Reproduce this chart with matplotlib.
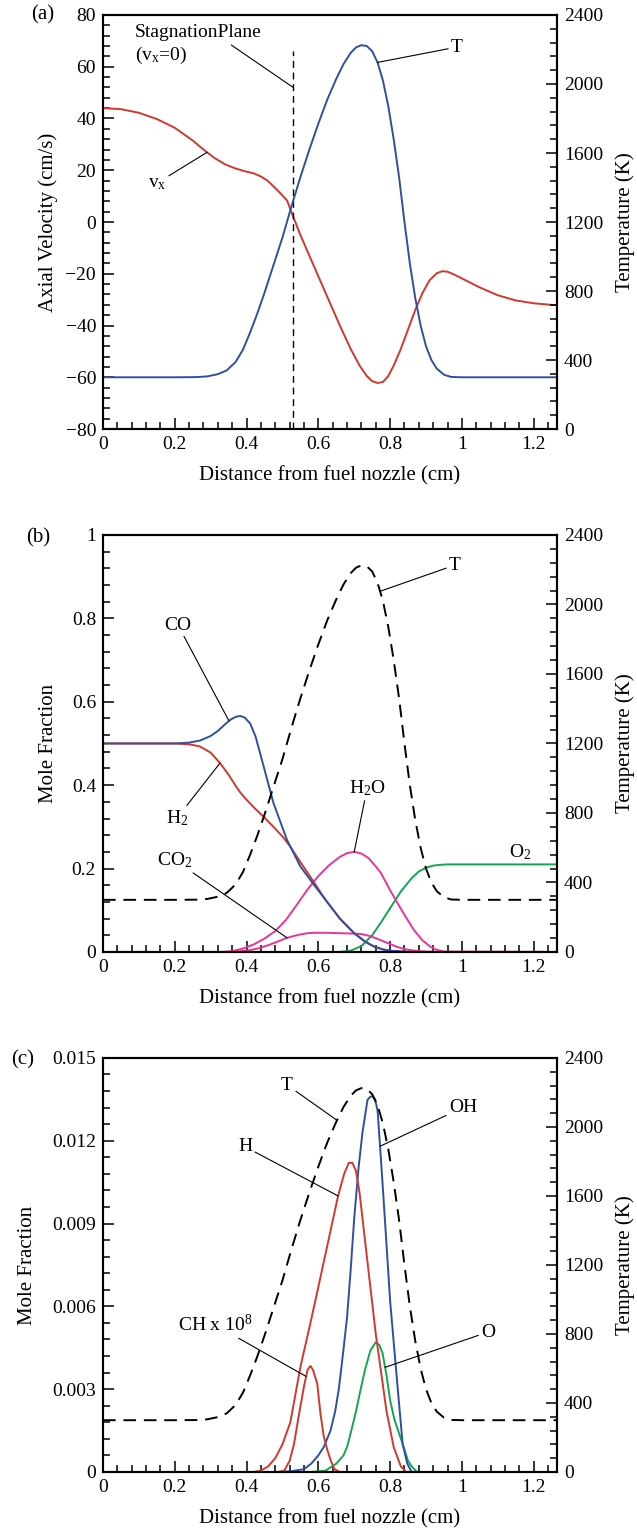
import matplotlib
matplotlib.use('Agg')
import matplotlib.pyplot as plt
from matplotlib.ticker import MultipleLocator, AutoMinorLocator, FuncFormatter
import numpy as np

plt.rcParams['font.family'] = 'Liberation Serif'
plt.rcParams['mathtext.fontset'] = 'custom'
plt.rcParams['mathtext.rm'] = 'Liberation Serif'
plt.rcParams['mathtext.it'] = 'Liberation Serif:italic'
plt.rcParams['font.size'] = 14

# Flame temperature profile (same flame in all three panels)
T_x = [0, 0.2, 0.26, 0.29, 0.32, 0.345, 0.37, 0.39, 0.41, 0.43, 0.45, 0.475,
       0.5, 0.525, 0.55, 0.575, 0.6, 0.625, 0.65, 0.67, 0.69, 0.705, 0.72,
       0.735, 0.75, 0.765, 0.78, 0.795, 0.81, 0.825, 0.84, 0.855, 0.87, 0.885,
       0.9, 0.915, 0.93, 0.95, 0.97, 1.0, 1.265]
T_K = [300, 300, 301, 305, 318, 340, 390, 460, 560, 670, 790, 950,
       1110, 1290, 1460, 1620, 1770, 1910, 2030, 2115, 2180, 2212, 2225,
       2220, 2190, 2125, 2020, 1870, 1680, 1460, 1200, 960, 760, 600,
       480, 400, 350, 315, 302, 300, 300]

# (a) axial velocity
vx_x = [0, 0.05, 0.1, 0.15, 0.2, 0.25, 0.28, 0.31, 0.34, 0.363, 0.39, 0.42,
        0.44, 0.458, 0.475, 0.495, 0.513, 0.53, 0.55, 0.575, 0.6, 0.63, 0.66,
        0.69, 0.715, 0.735, 0.75, 0.765, 0.78, 0.795, 0.81, 0.83, 0.85, 0.87,
        0.89, 0.91, 0.93, 0.945, 0.96, 0.98, 1.0, 1.05, 1.1, 1.15, 1.2, 1.265]
vx = [44, 43.6, 42.2, 39.8, 36.4, 31.5, 28, 24.8, 22.3, 21, 19.8, 18.8,
      17.6, 16, 13.8, 11, 8.3, 2, -5, -13, -21, -30.5, -40,
      -49, -55.5, -59.5, -61.5, -62.2, -61.8, -59.5, -55.5, -49, -41.5, -34,
      -27.5, -22.5, -19.8, -19, -19.2, -20.4, -21.8, -25.3, -28.3, -30.3,
      -31.4, -32.2]
x_stag = 0.53

# (b) major species mole fractions
co_x = [0, 0.2, 0.24, 0.27, 0.3, 0.32, 0.34, 0.355, 0.37, 0.383, 0.395, 0.41,
        0.425, 0.447, 0.475, 0.513, 0.55, 0.587, 0.62, 0.66, 0.7, 0.73, 0.755,
        0.78, 0.8, 0.83, 0.86, 1.265]
co = [0.5, 0.5, 0.502, 0.507, 0.518, 0.53, 0.546, 0.557, 0.564, 0.566, 0.562,
      0.548, 0.517, 0.447, 0.357, 0.268, 0.205, 0.162, 0.125, 0.08, 0.045,
      0.025, 0.013, 0.006, 0.003, 0.001, 0, 0]
h2_x = [0, 0.2, 0.24, 0.27, 0.3, 0.327, 0.35, 0.37, 0.383, 0.4, 0.42, 0.45,
        0.475, 0.5, 0.52, 0.545, 0.57, 0.587, 0.62, 0.66, 0.7, 0.73, 0.755,
        0.78, 0.8, 0.83, 0.86, 1.265]
h2 = [0.5, 0.5, 0.498, 0.493, 0.478, 0.452, 0.425, 0.398, 0.382, 0.365,
      0.347, 0.322, 0.30, 0.277, 0.255, 0.222, 0.19, 0.168, 0.125, 0.08,
      0.045, 0.025, 0.013, 0.006, 0.003, 0.001, 0, 0]
h2o_x = [0, 0.33, 0.36, 0.39, 0.42, 0.45, 0.48, 0.51, 0.54, 0.57, 0.6, 0.63,
         0.66, 0.68, 0.7, 0.72, 0.74, 0.76, 0.774, 0.8, 0.82, 0.845, 0.866,
         0.89, 0.913, 0.93, 0.95, 1.265]
h2o = [0, 0, 0.002, 0.008, 0.018, 0.032, 0.05, 0.077, 0.113, 0.15, 0.182,
       0.208, 0.228, 0.237, 0.24, 0.236, 0.225, 0.205, 0.19, 0.148, 0.118,
       0.082, 0.053, 0.028, 0.012, 0.005, 0.001, 0]
co2_x = [0, 0.36, 0.4, 0.43, 0.46, 0.49, 0.51, 0.53, 0.55, 0.57, 0.59, 0.62,
         0.66, 0.7, 0.72, 0.74, 0.76, 0.78, 0.8, 0.82, 0.84, 0.86, 0.88, 0.9,
         0.93, 1.265]
co2 = [0, 0, 0.003, 0.008, 0.016, 0.026, 0.033, 0.038, 0.042, 0.045, 0.046,
       0.046, 0.045, 0.044, 0.043, 0.039, 0.033, 0.026, 0.019, 0.012, 0.007,
       0.004, 0.002, 0.001, 0, 0]
o2_x = [0, 0.66, 0.69, 0.72, 0.75, 0.774, 0.8, 0.83, 0.86, 0.88, 0.9, 0.92,
        0.94, 0.96, 1.0, 1.265]
o2 = [0, 0, 0.003, 0.014, 0.04, 0.07, 0.105, 0.145, 0.177, 0.193, 0.202,
      0.207, 0.209, 0.21, 0.21, 0.21]

# (c) radicals
h_x = [0, 0.42, 0.44, 0.46, 0.48, 0.5, 0.522, 0.55, 0.578, 0.6, 0.625, 0.655,
       0.672, 0.685, 0.695, 0.705, 0.715, 0.737, 0.76, 0.79, 0.81, 0.83,
       0.845, 1.265]
h = [0, 0, 0.00005, 0.0002, 0.0005, 0.001, 0.0018, 0.0038, 0.0054, 0.0067,
     0.0082, 0.0100, 0.0108, 0.0112, 0.0112, 0.0109, 0.0101, 0.0076, 0.0050,
     0.0022, 0.0009, 0.0002, 0, 0]
ch_x = [0, 0.49, 0.505, 0.52, 0.532, 0.545, 0.56, 0.57, 0.578, 0.585, 0.597,
        0.606, 0.615, 0.625, 0.635, 0.645, 0.66, 1.265]
ch = [0, 0, 0.00005, 0.0004, 0.001, 0.002, 0.0031, 0.0037, 0.00384, 0.0037,
      0.0032, 0.0021, 0.0013, 0.0008, 0.0004, 0.0001, 0, 0]
oh_x = [0, 0.48, 0.52, 0.56, 0.58, 0.6, 0.615, 0.634, 0.647, 0.657, 0.668,
        0.68, 0.69, 0.7, 0.712, 0.723, 0.737, 0.745, 0.752, 0.758, 0.765,
        0.772, 0.782, 0.8, 0.82, 0.835, 0.848, 0.86, 1.265]
oh = [0, 0, 0.00002, 0.0001, 0.0003, 0.0006, 0.0009, 0.0015, 0.0022, 0.003,
      0.0042, 0.0056, 0.0073, 0.0092, 0.011, 0.0123, 0.01348, 0.0136,
      0.01359, 0.0135, 0.0131, 0.0118, 0.00985, 0.0062, 0.0032, 0.001,
      0.0003, 0, 0]
o_x = [0, 0.58, 0.62, 0.65, 0.67, 0.68, 0.69, 0.705, 0.718, 0.73, 0.745, 0.76,
       0.77, 0.779, 0.79, 0.8, 0.812, 0.825, 0.838, 0.85, 0.86, 0.875, 1.265]
o = [0, 0, 0.00005, 0.0003, 0.0006, 0.0009, 0.0014, 0.0022, 0.003, 0.0037,
     0.0044, 0.0047, 0.0046, 0.0043, 0.0035, 0.0026, 0.0019, 0.0014, 0.0009,
     0.0004, 0.0002, 0, 0]

RED = '#d0392b'
BLUE = '#2f4fa3'
MAGENTA = '#e8359b'
GREEN = '#12a552'
LW = 1.4
T_DASH = (0, (6.5, 4))


def fmt(v, pos):
    return f'{v:g}'.replace('-', '\u2212')


def setup(ax, ylim, ystep):
    axT = ax.twinx()
    ax.set_xlim(0, 1.265)
    ax.set_ylim(*ylim)
    axT.set_ylim(0, 2400)
    ax.xaxis.set_major_locator(MultipleLocator(0.2))
    ax.xaxis.set_minor_locator(AutoMinorLocator(5))
    ax.yaxis.set_major_locator(MultipleLocator(ystep))
    ax.yaxis.set_minor_locator(AutoMinorLocator(5))
    axT.yaxis.set_major_locator(MultipleLocator(400))
    axT.yaxis.set_minor_locator(AutoMinorLocator(5))
    for a in (ax, axT):
        a.tick_params(which='both', direction='in', top=False, width=1.1,
                      labelsize=14, pad=5)
        a.tick_params(which='major', length=8)
        a.tick_params(which='minor', length=5)
        for s in a.spines.values():
            s.set_linewidth(1.5)
    ax.xaxis.set_major_formatter(FuncFormatter(fmt))
    ax.yaxis.set_major_formatter(FuncFormatter(fmt))
    axT.yaxis.set_major_formatter(FuncFormatter(fmt))
    ax.set_xlabel('Distance from fuel nozzle (cm)', fontsize=15)
    ax.xaxis.set_label_coords(0.5, -0.09)
    axT.set_ylabel('Temperature (K)', fontsize=15)
    axT.yaxis.set_label_coords(1.128, 0.5)
    return axT


def label(ax, text, xy, xytext):
    ax.annotate(text, xy=xy, xytext=xytext, ha='center', va='center',
                fontsize=14,
                arrowprops=dict(arrowstyle='-', color='black', lw=0.8,
                                shrinkA=0, shrinkB=0))


fig = plt.figure(figsize=(6.37, 15.29), dpi=100)

# ---- (a) velocity and temperature ----
ax1 = fig.add_axes([0.1617, 0.7194, 0.7127, 0.2708])
ax1T = setup(ax1, (-80, 80), 20)
ax1.plot(vx_x, vx, color=RED, lw=LW)
ax1.plot([x_stag, x_stag], [-80, 66], color='black', lw=1.0,
         linestyle=(0, (5, 3.4)))
ax1T.plot(T_x, T_K, color=BLUE, lw=LW)
ax1.set_ylabel('Axial Velocity (cm/s)', fontsize=15)
ax1.yaxis.set_label_coords(-0.099, 0.5)

label(ax1, r'$\mathrm{v_x}$', (0.29, np.interp(0.29, vx_x, vx)), (0.150, 15))
ax1.annotate('StagnationPlane\n($\\mathrm{v_x}$=0)', xy=(x_stag, 52),
             xytext=(0.089, 68.4), ha='left', va='center', fontsize=14,
             arrowprops=dict(arrowstyle='-', color='black', lw=0.8,
                             shrinkA=0, shrinkB=0, patchA=None,
                             relpos=(0.76, 0.5)))
label(ax1T, 'T', (0.765, np.interp(0.765, T_x, T_K)), (0.986, 2214))

# ---- (b) major species ----
ax2 = fig.add_axes([0.1617, 0.3774, 0.7127, 0.2727])
ax2T = setup(ax2, (0, 1), 0.2)
ax2.plot(o2_x, o2, color=GREEN, lw=LW)
ax2.plot(co2_x, co2, color=MAGENTA, lw=LW)
ax2.plot(h2o_x, h2o, color=MAGENTA, lw=LW)
ax2.plot(h2_x, h2, color=RED, lw=LW)
ax2.plot(co_x, co, color=BLUE, lw=LW)
ax2T.plot(T_x, T_K, color='black', lw=LW, linestyle=T_DASH)
ax2.set_ylabel('Mole Fraction', fontsize=15)
ax2.yaxis.set_label_coords(-0.099, 0.5)

label(ax2, 'CO', (0.351, np.interp(0.351, co_x, co)), (0.209, 0.784))
label(ax2, r'$\mathrm{H_2}$', (0.326, np.interp(0.326, h2_x, h2)), (0.206, 0.321))
label(ax2, r'$\mathrm{CO_2}$', (0.513, np.interp(0.513, co2_x, co2)), (0.20, 0.22))
label(ax2, r'$\mathrm{H_2O}$', (0.70, np.interp(0.70, h2o_x, h2o)), (0.736, 0.393))
ax2.text(1.162, 0.24, r'$\mathrm{O_2}$', ha='center', va='center', fontsize=14)
label(ax2T, 'T', (0.772, np.interp(0.772, T_x, T_K)), (0.981, 2227))

# ---- (c) radicals ----
ax3 = fig.add_axes([0.1617, 0.0373, 0.7127, 0.2708])
ax3T = setup(ax3, (0, 0.015), 0.003)
ax3.plot(o_x, o, color=GREEN, lw=LW)
ax3.plot(oh_x, oh, color=BLUE, lw=LW)
ax3.plot(ch_x, ch, color=RED, lw=LW)
ax3.plot(h_x, h, color=RED, lw=LW)
ax3T.plot(T_x, T_K, color='black', lw=LW, linestyle=T_DASH)
ax3.set_ylabel('Mole Fraction', fontsize=15)
ax3.yaxis.set_label_coords(-0.145, 0.5)

label(ax3T, 'T', (0.652, np.interp(0.652, T_x, T_K)), (0.513, 2243))
label(ax3, 'OH', (0.772, np.interp(0.772, oh_x, oh)), (1.003, 0.0132))
label(ax3, 'H', (0.655, np.interp(0.655, h_x, h)), (0.396, 0.01178))
label(ax3, 'O', (0.786, np.interp(0.786, o_x, o)), (1.073, 0.00507))
label(ax3, r'CH x $\mathrm{10^8}$', (0.566, np.interp(0.566, ch_x, ch)),
      (0.312, 0.00533))

# panel tags
fig.text(43 / 637, 1 - 15 / 1529, '(a)', ha='center', va='center', fontsize=15)
fig.text(38 / 637, 1 - 538 / 1529, '(b)', ha='center', va='center', fontsize=15)
fig.text(23 / 637, 1 - 1060 / 1529, '(c)', ha='center', va='center', fontsize=15)

fig.savefig('out.png', dpi=100)
